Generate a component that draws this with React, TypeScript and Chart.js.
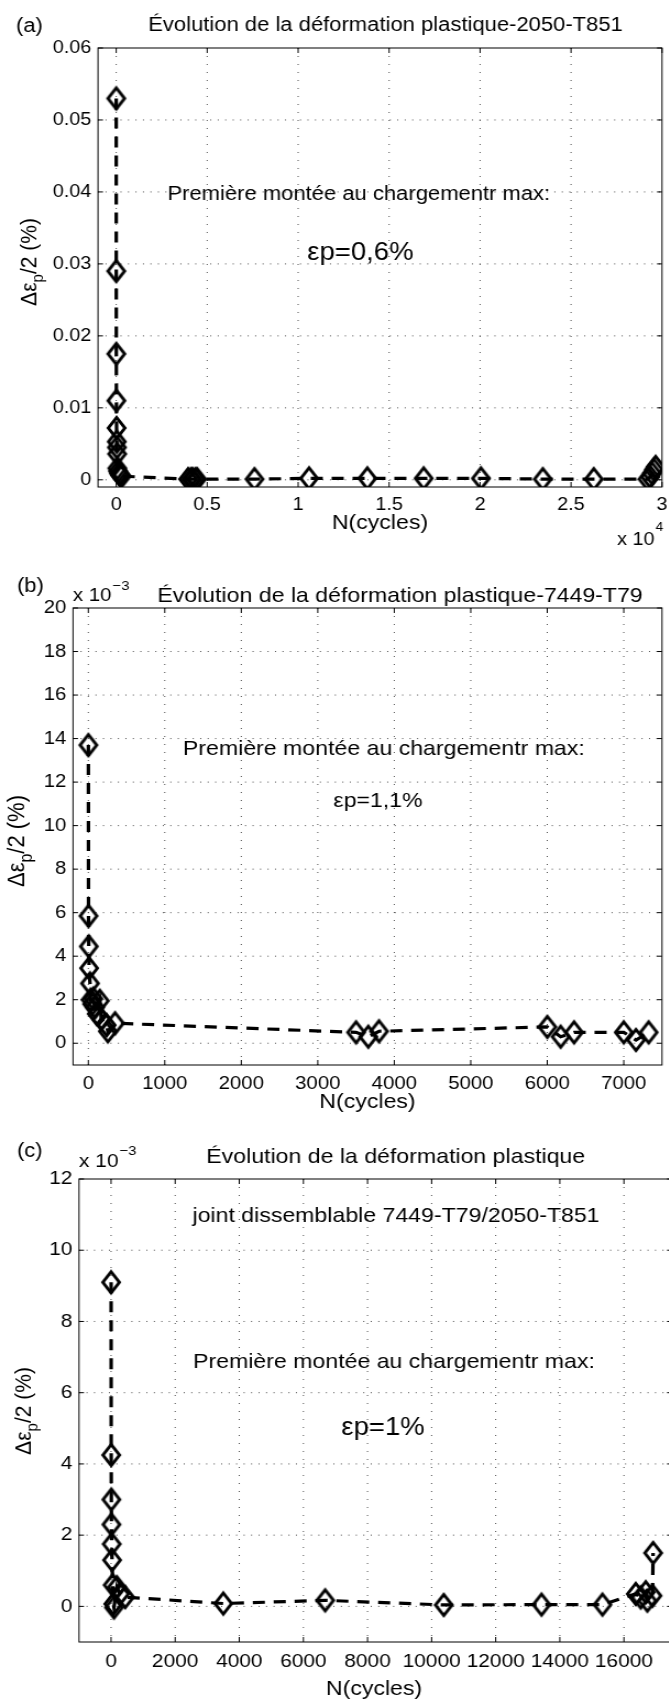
import React, { useEffect, useRef } from 'react';
import { Chart, registerables } from 'chart.js';

Chart.register(...registerables);

// The original figure is horizontally stretched; we draw in a narrower canvas and stretch it.
const S = 1.1;
const LW = 625;
const FONT = '"Liberation Sans", Arial, Helvetica, sans-serif';

// ---------------- Panel (a) : 2050-T851 (strain in %) ----------------
const A_CYCLES = [1, 3, 6, 10, 20, 30, 40, 50, 60, 100, 150, 200, 250, 300, 3950, 4100, 4200, 4350, 4450, 7600, 10600, 13800, 16900, 20050, 23450, 26250, 29200, 29350, 29450, 29550, 29650];
const A_STRAIN = [0.053, 0.029, 0.0175, 0.011, 0.0072, 0.0053, 0.0045, 0.0036, 0.0016, 0.0012, 0.0009, 0.0007, 0.0006, 0.0005, 0.0001, 0.0001, 0.0001, 0.0001, 0.0001, 0.0001, 0.0002, 0.0002, 0.0002, 0.0002, 0.0001, 0.0001, 0.0001, 0.0004, 0.0009, 0.0014, 0.0018];
const A_X_TICKS = [0, 5000, 10000, 15000, 20000, 25000, 30000];
const A_X_LABELS = ['0', '0.5', '1', '1.5', '2', '2.5', '3'];
const A_Y_TICKS = [0, 0.01, 0.02, 0.03, 0.04, 0.05, 0.06];
const A_Y_LABELS = ['0', '0.01', '0.02', '0.03', '0.04', '0.05', '0.06'];

// ---------------- Panel (b) : 7449-T79 (strain in 10^-3 %) ----------------
const B_CYCLES = [1, 3, 6, 10, 22, 30, 50, 65, 87, 110, 150, 170, 240, 255, 350, 3500, 3660, 3800, 6000, 6175, 6350, 7000, 7160, 7325];
const B_STRAIN = [13.7, 5.85, 4.45, 3.45, 2.75, 2.0, 1.8, 2.05, 1.65, 1.35, 1.95, 1.1, 0.83, 0.55, 0.92, 0.5, 0.3, 0.55, 0.75, 0.3, 0.5, 0.5, 0.15, 0.5];
const B_X_TICKS = [0, 1000, 2000, 3000, 4000, 5000, 6000, 7000];
const B_X_LABELS = ['0', '1000', '2000', '3000', '4000', '5000', '6000', '7000'];
const B_Y_TICKS = [0, 2, 4, 6, 8, 10, 12, 14, 16, 18, 20];
const B_Y_LABELS = ['0', '2', '4', '6', '8', '10', '12', '14', '16', '18', '20'];

// ---------------- Panel (c) : joint 7449-T79/2050-T851 (strain in 10^-3 %) ----------------
const C_CYCLES = [1, 4, 8, 12, 20, 30, 50, 70, 90, 180, 280, 440, 3500, 6680, 10380, 13430, 15330, 16370, 16525, 16680, 16730, 16890, 16910];
const C_STRAIN = [9.1, 4.25, 3.0, 2.3, 1.75, 1.3, 0.6, 0.07, -0.03, 0.54, 0.35, 0.26, 0.08, 0.17, 0.04, 0.05, 0.05, 0.35, 0.25, 0.4, 0.16, 0.3, 1.5];
const C_X_TICKS = [0, 2000, 4000, 6000, 8000, 10000, 12000, 14000, 16000];
const C_X_LABELS = ['0', '2000', '4000', '6000', '8000', '10000', '12000', '14000', '16000'];
const C_Y_TICKS = [0, 2, 4, 6, 8, 10, 12];
const C_Y_LABELS = ['0', '2', '4', '6', '8', '10', '12'];

type TextItem = {
  text: string; x: number; y: number; size: number;
  align?: CanvasTextAlign; baseline?: CanvasTextBaseline; data?: boolean;
};
type SupItem = { base: string; exp: string; x: number; y: number; size: number; expSize: number; rise: number };

interface PanelCfg {
  top: number; height: number;
  area: { left: number; right: number; top: number; bottom: number };
  xMin: number; xMax: number; yMin: number; yMax: number;
  xTicks: number[]; xLabels: string[]; yTicks: number[]; yLabels: string[];
  cycles: number[]; strain: number[];
  tickSize: number; xPad: number;
  texts: TextItem[]; sups: SupItem[];
  ylabel: { x: number; y: number; size: number };
}

const PANELS: PanelCfg[] = [
  {
    top: 0, height: 560,
    area: { left: 98, right: 662, top: 48, bottom: 487 },
    xMin: -1000, xMax: 30000, yMin: -0.001, yMax: 0.06,
    xTicks: A_X_TICKS, xLabels: A_X_LABELS, yTicks: A_Y_TICKS, yLabels: A_Y_LABELS,
    cycles: A_CYCLES, strain: A_STRAIN, tickSize: 18, xPad: 7.5,
    texts: [
      { text: '(a)', x: 16, y: 32, size: 20, align: 'left', baseline: 'alphabetic' },
      { text: 'Évolution de la déformation plastique-2050-T851', x: 385.5, y: 31, size: 20, align: 'center', baseline: 'alphabetic' },
      { text: 'Première montée au chargementr max:', x: 13335, y: 0.0397, size: 20, data: true },
      { text: 'εp=0,6%', x: 13418, y: 0.0315, size: 25, data: true },
      { text: 'N(cycles)', x: 380, y: 523, size: 21 },
    ],
    sups: [{ base: 'x 10', exp: '4', x: 617, y: 545, size: 18, expSize: 12.5, rise: 14 }],
    ylabel: { x: 27.5, y: 262, size: 21 },
  },
  {
    top: 560, height: 565,
    area: { left: 73, right: 662, top: 48, bottom: 505 },
    xMin: -200, xMax: 7500, yMin: -1, yMax: 20,
    xTicks: B_X_TICKS, xLabels: B_X_LABELS, yTicks: B_Y_TICKS, yLabels: B_Y_LABELS,
    cycles: B_CYCLES, strain: B_STRAIN, tickSize: 18.5, xPad: 8,
    texts: [
      { text: '(b)', x: 17, y: 32, size: 20, align: 'left', baseline: 'alphabetic' },
      { text: 'Évolution de la déformation plastique-7449-T79', x: 400, y: 42, size: 21, align: 'center', baseline: 'alphabetic' },
      { text: 'Première montée au chargementr max:', x: 3864, y: 13.5, size: 21, data: true },
      { text: 'εp=1,1%', x: 3787, y: 11.1, size: 21, data: true },
      { text: 'N(cycles)', x: 367.5, y: 542, size: 21 },
    ],
    sups: [{ base: 'x 10', exp: '\u22123', x: 73, y: 41, size: 18.5, expSize: 13.5, rise: 11 }],
    ylabel: { x: 15.5, y: 281, size: 22 },
  },
  {
    top: 1125, height: 574,
    area: { left: 79, right: 672, top: 54, bottom: 517 },
    xMin: -1000, xMax: 17500, yMin: -1, yMax: 12,
    xTicks: C_X_TICKS, xLabels: C_X_LABELS, yTicks: C_Y_TICKS, yLabels: C_Y_LABELS,
    cycles: C_CYCLES, strain: C_STRAIN, tickSize: 19, xPad: 8,
    texts: [
      { text: '(c)', x: 17, y: 32, size: 20, align: 'left', baseline: 'alphabetic' },
      { text: 'Évolution de la déformation plastique', x: 395.7, y: 37.5, size: 21, align: 'center', baseline: 'alphabetic' },
      { text: 'joint dissemblable 7449-T79/2050-T851', x: 8890, y: 10.96, size: 21, data: true },
      { text: 'Première montée au chargementr max:', x: 8827, y: 6.85, size: 21, data: true },
      { text: 'εp=1%', x: 8484, y: 5.0, size: 25, data: true },
      { text: 'N(cycles)', x: 374, y: 564, size: 21 },
    ],
    sups: [{ base: 'x 10', exp: '\u22123', x: 79, y: 42, size: 19, expSize: 13.5, rise: 12 }],
    ylabel: { x: 22, y: 286, size: 21 },
  },
];

function makeDiamond(): HTMLCanvasElement {
  const c = document.createElement('canvas');
  c.width = 24;
  c.height = 32;
  const g = c.getContext('2d')!;
  g.strokeStyle = '#000';
  g.lineWidth = 3;
  g.lineJoin = 'miter';
  g.beginPath();
  g.moveTo(12, 5.5);
  g.lineTo(19.5, 16);
  g.lineTo(12, 26.5);
  g.lineTo(4.5, 16);
  g.closePath();
  g.stroke();
  return c;
}

function Panel({ cfg }: { cfg: PanelCfg }) {
  const ref = useRef<HTMLCanvasElement>(null);

  useEffect(() => {
    const canvas = ref.current!;
    const diamond = makeDiamond();
    const XH = 40;
    const L = cfg.area.left / S;
    const R = cfg.area.right / S;

    const framePlugin = {
      id: 'matlabFrame',
      beforeDatasetsDraw(chart: any) {
        const { ctx, chartArea: a, scales } = chart;
        const xs = scales.x, ys = scales.y;
        ctx.save();
        ctx.lineWidth = 1;
        ctx.strokeStyle = '#505050';
        ctx.setLineDash([1, 5.8]);
        ys.ticks.forEach((t: any) => {
          const p = ys.getPixelForValue(t.value);
          if (p > a.top + 1 && p < a.bottom - 1) {
            ctx.beginPath(); ctx.moveTo(a.left, p); ctx.lineTo(a.right, p); ctx.stroke();
          }
        });
        ctx.setLineDash([1, 7]);
        xs.ticks.forEach((t: any) => {
          const p = xs.getPixelForValue(t.value);
          if (p > a.left + 1 && p < a.right - 1) {
            ctx.beginPath(); ctx.moveTo(p, a.top); ctx.lineTo(p, a.bottom); ctx.stroke();
          }
        });
        ctx.restore();
      },
      afterDatasetsDraw(chart: any) {
        const { ctx, chartArea: a, scales } = chart;
        const xs = scales.x, ys = scales.y;
        ctx.save();
        ctx.setLineDash([]);
        ctx.strokeStyle = '#000';
        ctx.lineWidth = 1;
        ctx.strokeRect(a.left, a.top, a.right - a.left, a.bottom - a.top);
        ctx.beginPath();
        xs.ticks.forEach((t: any) => {
          const p = xs.getPixelForValue(t.value);
          ctx.moveTo(p, a.bottom); ctx.lineTo(p, a.bottom - 5);
          ctx.moveTo(p, a.top); ctx.lineTo(p, a.top + 5);
        });
        ys.ticks.forEach((t: any) => {
          const p = ys.getPixelForValue(t.value);
          ctx.moveTo(a.left, p); ctx.lineTo(a.left + 5 / S, p);
          ctx.moveTo(a.right, p); ctx.lineTo(a.right - 5 / S, p);
        });
        ctx.stroke();
        ctx.restore();
      },
    };

    const textPlugin = {
      id: 'matlabText',
      afterDraw(chart: any) {
        const { ctx, scales } = chart;
        const xs = scales.x, ys = scales.y;
        ctx.save();
        ctx.fillStyle = '#000';
        cfg.texts.forEach((t) => {
          ctx.font = `${t.size}px ${FONT}`;
          ctx.textAlign = t.align || 'center';
          ctx.textBaseline = t.baseline || 'middle';
          const x = t.data ? xs.getPixelForValue(t.x) : t.x / S;
          const y = t.data ? ys.getPixelForValue(t.y) : t.y;
          ctx.fillText(t.text, x, y);
        });
        cfg.sups.forEach((s) => {
          ctx.textAlign = 'left';
          ctx.textBaseline = 'alphabetic';
          ctx.font = `${s.size}px ${FONT}`;
          const w = ctx.measureText(s.base).width;
          ctx.fillText(s.base, s.x / S, s.y);
          ctx.font = `${s.expSize}px ${FONT}`;
          ctx.fillText(s.exp, s.x / S + w + 1, s.y - s.rise);
        });
        // y label: Δε_p/2 (%) rotated
        const yl = cfg.ylabel;
        ctx.translate(yl.x / S, yl.y);
        ctx.rotate(-Math.PI / 2);
        const parts: [string, number, number][] = [
          ['Δε', yl.size, 0],
          ['p', yl.size * 0.72, yl.size * 0.32],
          ['/2 (%)', yl.size, 0],
        ];
        let total = 0;
        const widths = parts.map(([t, sz]) => {
          ctx.font = `${sz}px ${FONT}`;
          const w = ctx.measureText(t).width;
          total += w;
          return w;
        });
        let cur = -total / 2;
        const base = yl.size * 0.36;
        ctx.textAlign = 'left';
        ctx.textBaseline = 'alphabetic';
        parts.forEach(([t, sz, dy], i) => {
          ctx.font = `${sz}px ${FONT}`;
          ctx.fillText(t, cur, base + dy);
          cur += widths[i];
        });
        ctx.restore();
      },
    };

    const chart = new Chart(canvas, {
      type: 'scatter',
      data: {
        datasets: [
          {
            data: cfg.cycles.map((x, i) => ({ x, y: cfg.strain[i] })),
            showLine: true,
            borderColor: '#000',
            borderWidth: 3.2,
            borderDash: [11, 8],
            backgroundColor: 'transparent',
            pointStyle: diamond as any,
            pointRadius: 10,
            pointHoverRadius: 10,
            tension: 0,
          } as any,
        ],
      },
      options: {
        responsive: false,
        animation: false,
        events: [],
        layout: {
          padding: { left: 0, right: LW - R, top: cfg.area.top, bottom: cfg.height - cfg.area.bottom - XH },
        },
        plugins: {
          legend: { display: false },
          tooltip: { enabled: false },
          title: { display: false },
        },
        scales: {
          x: {
            type: 'linear',
            position: 'bottom',
            min: cfg.xMin,
            max: cfg.xMax,
            grid: { display: false, drawTicks: false },
            border: { display: false },
            afterBuildTicks: (s: any) => { s.ticks = cfg.xTicks.map((v) => ({ value: v })); },
            afterFit: (s: any) => { s.height = XH; },
            ticks: {
              autoSkip: false,
              maxRotation: 0,
              minRotation: 0,
              padding: cfg.xPad,
              color: '#000',
              font: { family: FONT, size: cfg.tickSize },
              callback: (_v: any, i: number) => cfg.xLabels[i],
            },
          },
          y: {
            type: 'linear',
            position: 'left',
            min: cfg.yMin,
            max: cfg.yMax,
            grid: { display: false, drawTicks: false },
            border: { display: false },
            afterBuildTicks: (s: any) => { s.ticks = cfg.yTicks.map((v) => ({ value: v })); },
            afterFit: (s: any) => { s.width = L; },
            ticks: {
              autoSkip: false,
              padding: 6,
              color: '#000',
              font: { family: FONT, size: cfg.tickSize },
              callback: (_v: any, i: number) => cfg.yLabels[i],
            },
          },
        },
      } as any,
      plugins: [framePlugin, textPlugin],
    });

    return () => chart.destroy();
  }, [cfg]);

  return (
    <canvas
      ref={ref}
      width={LW}
      height={cfg.height}
      style={{
        position: 'absolute',
        left: 0,
        top: cfg.top,
        width: LW,
        height: cfg.height,
        transform: `scaleX(${S})`,
        transformOrigin: '0 0',
      }}
    />
  );
}

export default function App() {
  return (
    <div
      style={{
        position: 'absolute',
        left: 0,
        top: 0,
        width: 669,
        height: 1699,
        overflow: 'hidden',
        background: '#fff',
      }}
    >
      {PANELS.map((cfg, i) => (
        <Panel key={i} cfg={cfg} />
      ))}
    </div>
  );
}
